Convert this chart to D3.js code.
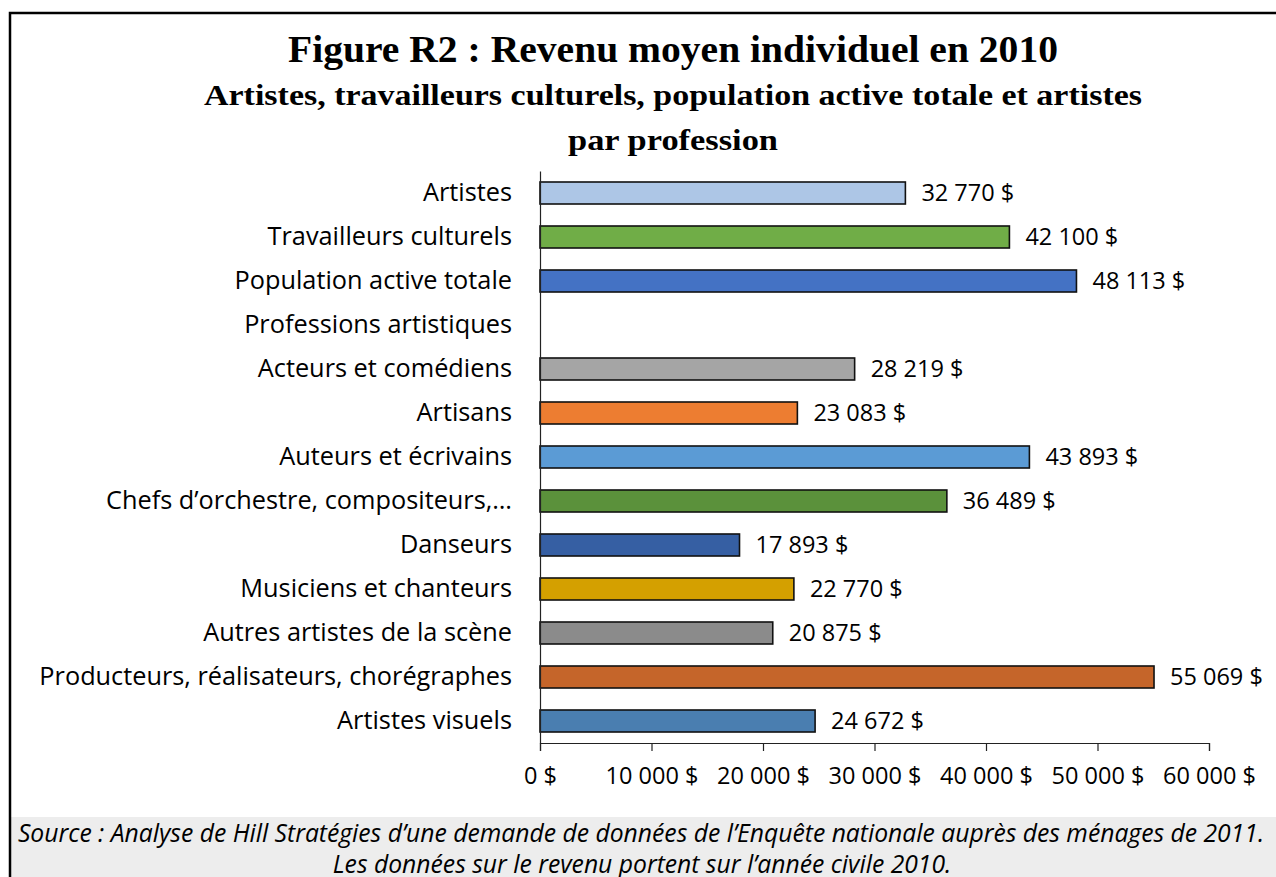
<!DOCTYPE html>
<html>
<head>
<meta charset="utf-8">
<script src="https://cdn.jsdelivr.net/npm/d3@7"></script>
<style>
  html, body { margin: 0; padding: 0; background: #fff; }
  svg { display: block; }
</style>
</head>
<body>
<div id="chart"></div>
<script>
// ---- data ----
const categories = [
  "Artistes",
  "Travailleurs culturels",
  "Population active totale",
  "Professions artistiques",
  "Acteurs et comédiens",
  "Artisans",
  "Auteurs et écrivains",
  "Chefs d’orchestre, compositeurs,…",
  "Danseurs",
  "Musiciens et chanteurs",
  "Autres artistes de la scène",
  "Producteurs, réalisateurs, chorégraphes",
  "Artistes visuels"
];
const revenus = [32770, 42100, 48113, null, 28219, 23083, 43893, 36489, 17893, 22770, 20875, 55069, 24672];
const barColors = ["#adc6e6", "#70ad47", "#4472c4", "none", "#a5a5a5", "#ed7d31", "#5b9bd5",
                   "#5b913b", "#365fa3", "#d4a000", "#8b8b8b", "#c5652a", "#4a7eb0"];
const xTicks = [0, 10000, 20000, 30000, 40000, 50000, 60000];

const titre = "Figure R2 : Revenu moyen individuel en 2010";
const sousTitre1 = "Artistes, travailleurs culturels, population active totale et artistes";
const sousTitre2 = "par profession";
const source1 = "Source : Analyse de Hill Stratégies d’une demande de données de l’Enquête nationale auprès des ménages de 2011.";
const source2 = "Les données sur le revenu portent sur l’année civile 2010.";

const W = 1276, H = 877;
const sans = "'Open Sans', 'Noto Sans', sans-serif";
const serif = "'Liberation Serif', 'DejaVu Serif', serif";

// format "32 770 $"
const fmt = v => d3.format(",")(v).replace(/,/g, " ") + " $";

const svg = d3.select("#chart").append("svg")
  .attr("width", W).attr("height", H);

svg.append("rect").attr("width", W).attr("height", H).attr("fill", "#fff");

// footer band
svg.append("rect")
  .attr("x", 11).attr("y", 817).attr("width", W).attr("height", H - 817)
  .attr("fill", "#ededed");

// frame (right / bottom edges fall outside the picture)
svg.append("rect")
  .attr("x", 10).attr("y", 13).attr("width", W + 20).attr("height", H + 20)
  .attr("fill", "none").attr("stroke", "#000").attr("stroke-width", 2.5);

// titles
svg.append("text")
  .attr("x", 673).attr("y", 62)
  .attr("text-anchor", "middle")
  .attr("font-family", serif).attr("font-weight", "bold").attr("font-size", 37)
  .attr("textLength", 770).attr("lengthAdjust", "spacingAndGlyphs")
  .text(titre);

svg.append("text")
  .attr("x", 673).attr("y", 105)
  .attr("text-anchor", "middle")
  .attr("font-family", serif).attr("font-weight", "bold").attr("font-size", 30)
  .attr("textLength", 938).attr("lengthAdjust", "spacingAndGlyphs")
  .text(sousTitre1);

svg.append("text")
  .attr("x", 673).attr("y", 150)
  .attr("text-anchor", "middle")
  .attr("font-family", serif).attr("font-weight", "bold").attr("font-size", 30)
  .attr("textLength", 210).attr("lengthAdjust", "spacingAndGlyphs")
  .text(sousTitre2);

// scales
const x = d3.scaleLinear().domain([0, 60000]).range([540, 1209]);
const y = d3.scaleBand().domain(categories).range([171, 743])
  .paddingInner(0.5).paddingOuter(0.25);

// bars
const rows = categories.map((c, i) => ({ cat: c, v: revenus[i], color: barColors[i] }))
  .filter(d => d.v != null);

svg.append("g").selectAll("rect")
  .data(rows)
  .enter()
  .append("rect")
  .attr("x", x(0))
  .attr("y", d => y(d.cat))
  .attr("width", d => x(d.v) - x(0))
  .attr("height", y.bandwidth())
  .attr("fill", d => d.color)
  .attr("stroke", "#111")
  .attr("stroke-width", 1.6);

// value labels
svg.append("g").selectAll("text")
  .data(rows)
  .enter()
  .append("text")
  .attr("x", d => x(d.v) + 16)
  .attr("y", d => y(d.cat) + y.bandwidth() / 2)
  .attr("dy", "0.36em")
  .attr("font-family", sans).attr("font-size", 23.5)
  .attr("fill", "#000")
  .text(d => fmt(d.v));

// y axis
const yAxis = svg.append("g")
  .attr("transform", `translate(${x(0)},0)`)
  .call(d3.axisLeft(y).tickSize(0).tickPadding(28));
yAxis.select(".domain").attr("stroke", "#222").attr("stroke-width", 1.2);
yAxis.selectAll("text")
  .attr("font-family", sans).attr("font-size", 25.3).attr("fill", "#000");

// x axis
const xAxis = svg.append("g")
  .attr("transform", "translate(0,743)")
  .call(d3.axisBottom(x).tickValues(xTicks).tickSize(8).tickPadding(16).tickFormat(fmt));
xAxis.select(".domain").attr("stroke", "#222").attr("stroke-width", 1.2);
xAxis.selectAll(".tick line").attr("stroke", "#222").attr("stroke-width", 1.2);
xAxis.selectAll("text")
  .attr("font-family", sans).attr("font-size", 23.5).attr("fill", "#000");

// source note
svg.append("text")
  .attr("x", 641).attr("y", 842)
  .attr("text-anchor", "middle")
  .attr("font-family", sans).attr("font-style", "italic").attr("font-size", 24.7)
  .attr("fill", "#000")
  .text(source1);
svg.append("text")
  .attr("x", 642).attr("y", 873)
  .attr("text-anchor", "middle")
  .attr("font-family", sans).attr("font-style", "italic").attr("font-size", 24.7)
  .attr("fill", "#000")
  .text(source2);
</script>
</body>
</html>
